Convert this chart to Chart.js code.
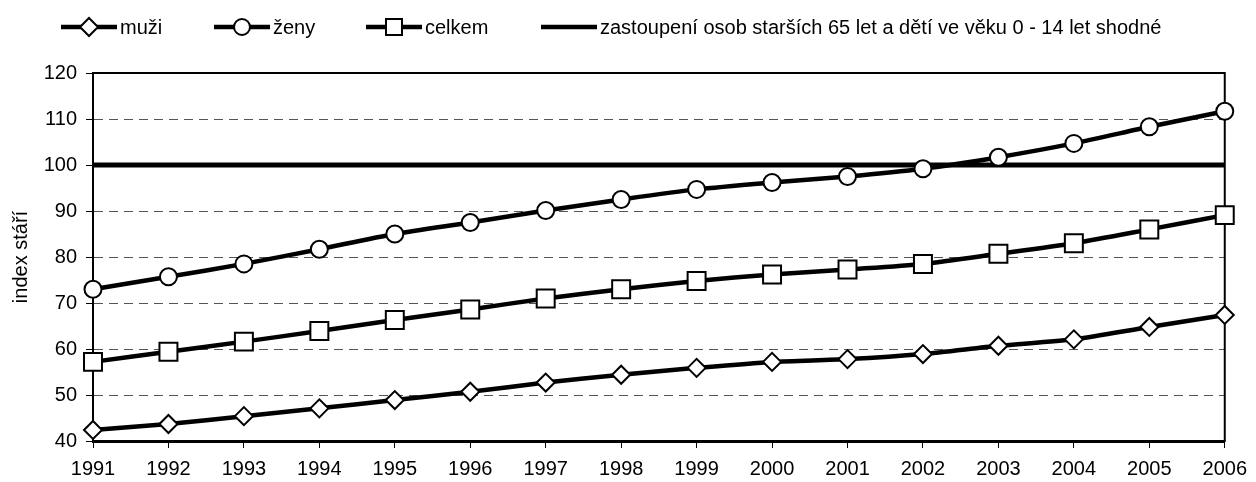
<!DOCTYPE html>
<html>
<head>
<meta charset="utf-8">
<script src="https://cdn.jsdelivr.net/npm/chart.js@4"></script>
<style>
  body { margin: 0; background: #fff; }
  #wrap { position: relative; width: 1256px; height: 482px; }
  #legend { position: absolute; left: 0; top: 0; width: 1256px; height: 50px; font-family: "Liberation Sans", Arial, sans-serif; font-size: 20px; color: #000; }
  .item { position: absolute; top: 15px; height: 24px; line-height: 24px; white-space: nowrap; }
  .item svg { vertical-align: top; margin-right: 3px; }
</style>
</head>
<body>
<div id="wrap">
  <canvas id="chart" width="1256" height="482"></canvas>
  <div id="legend"></div>
</div>
<script>
const years = ["1991","1992","1993","1994","1995","1996","1997","1998","1999","2000","2001","2002","2003","2004","2005","2006"];
const muzi   = [42.4, 43.7, 45.4, 47.1, 48.9, 50.7, 52.7, 54.4, 55.9, 57.2, 57.8, 58.9, 60.7, 62.1, 64.8, 67.4];
const zeny   = [73.0, 75.7, 78.5, 81.7, 85.0, 87.5, 90.1, 92.5, 94.7, 96.2, 97.5, 99.2, 101.7, 104.7, 108.3, 111.7];
const celkem = [57.2, 59.4, 61.6, 63.9, 66.3, 68.6, 71.0, 73.0, 74.8, 76.2, 77.3, 78.5, 80.7, 83.0, 86.0, 89.1];
const shodne = [100, 100, 100, 100, 100, 100, 100, 100, 100, 100, 100, 100, 100, 100, 100, 100];

const labels = ["muži", "ženy", "celkem", "zastoupení osob starších 65 let a dětí ve věku 0 - 14 let shodné"];
const yTicks = { min: 40, max: 120, step: 10 };
const yTitle = "index stáří";

const FONT = "'Liberation Sans', Arial, sans-serif";

// html legend: line + marker like the original
const legendItems = [
  { text: labels[0], left: 61, marker: "diamond" },
  { text: labels[1], left: 214, marker: "circle" },
  { text: labels[2], left: 366, marker: "square" },
  { text: labels[3], left: 541, marker: null }
];

function icon(marker) {
  let m = "";
  if (marker == "diamond") m = '<polygon points="28,3 37,12 28,21 19,12" fill="#fff" stroke="#000" stroke-width="2"/>';
  if (marker == "circle") m = '<circle cx="28" cy="12" r="8" fill="#fff" stroke="#000" stroke-width="2"/>';
  if (marker == "square") m = '<rect x="20" y="4" width="16" height="16" fill="#fff" stroke="#000" stroke-width="2"/>';
  return '<svg width="56" height="24"><line x1="0" y1="12" x2="56" y2="12" stroke="#000" stroke-width="4.5"/>' + m + '</svg>';
}

document.getElementById("legend").innerHTML = legendItems.map(it =>
  '<div class="item" style="left:' + it.left + 'px">' + icon(it.marker) + '<span>' + it.text + '</span></div>'
).join("");

// frame around the plot (top + right edge)
const frame = {
  id: "frame",
  beforeDatasetsDraw(chart) {
    const a = chart.chartArea, ctx = chart.ctx;
    ctx.save();
    ctx.strokeStyle = "#000";
    ctx.lineWidth = 2;
    ctx.strokeRect(a.left, a.top, a.right - a.left, a.bottom - a.top);
    ctx.restore();
  }
};

function series(data, style, radius) {
  return {
    data: data,
    borderColor: "#000",
    borderWidth: 4.5,
    pointStyle: style,
    pointRadius: radius,
    pointHoverRadius: radius,
    pointBorderWidth: 2,
    pointBorderColor: "#000",
    pointBackgroundColor: "#fff",
    tension: 0.25,
    clip: false
  };
}

const datasets = [
  Object.assign({ label: labels[0] }, series(muzi, "rectRot", 9)),
  Object.assign({ label: labels[1] }, series(zeny, "circle", 8.5)),
  Object.assign({ label: labels[2] }, series(celkem, "rect", 12.7)),
  { label: labels[3], data: shodne, borderColor: "#000", borderWidth: 5, pointRadius: 0, tension: 0, clip: false }
];

new Chart(document.getElementById("chart"), {
  type: "line",
  data: { labels: years, datasets: datasets },
  plugins: [frame],
  options: {
    responsive: false,
    animation: false,
    events: [],
    layout: { padding: { top: 73, right: 26, left: 0, bottom: 0 } },
    plugins: { legend: { display: false }, tooltip: { enabled: false } },
    scales: {
      x: {
        offset: false,
        grid: { drawOnChartArea: false, drawTicks: true, tickLength: 7, tickColor: "#000", tickWidth: 1 },
        border: { color: "#000", width: 3 },
        ticks: { color: "#000", padding: 9, maxRotation: 0, autoSkip: false, font: { family: FONT, size: 20 } },
        afterFit(s) { s.height = 41; }
      },
      y: {
        min: yTicks.min,
        max: yTicks.max,
        grid: {
          color: c => (c.tick && (c.tick.value == yTicks.min || c.tick.value == yTicks.max)) ? "rgba(0,0,0,0)" : "#555",
          lineWidth: 1,
          tickLength: 7,
          tickColor: "#000",
          tickWidth: 1
        },
        border: { color: "#000", width: 2, dash: [9, 6] },
        ticks: { stepSize: yTicks.step, color: "#000", padding: 9, font: { family: FONT, size: 20 } },
        title: { display: true, text: yTitle, color: "#000", padding: { top: 9, bottom: 0 }, font: { family: FONT, size: 20 } },
        afterFit(s) { s.width = 93; }
      }
    }
  }
});
</script>
</body>
</html>
